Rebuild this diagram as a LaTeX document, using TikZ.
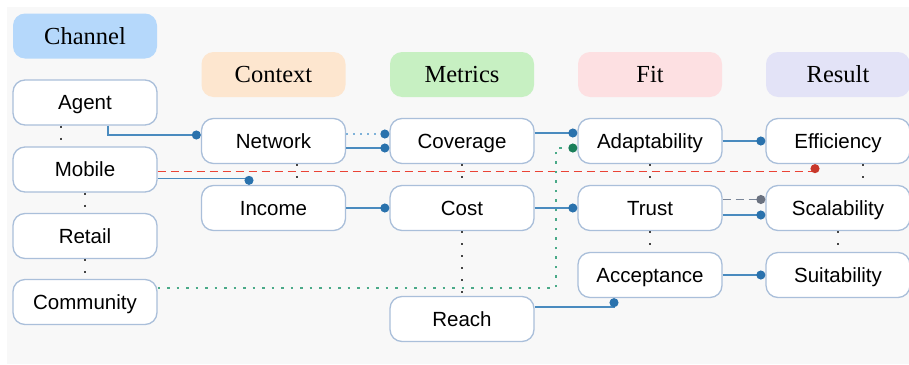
\documentclass[tikz,border=0pt]{standalone}
\usepackage{fontspec}
\setmainfont{Liberation Serif}
\setsansfont{Liberation Sans}
\usetikzlibrary{arrows.meta,calc}
\definecolor{cBg}{HTML}{F8F8F8}
\definecolor{cBox}{HTML}{AABFDA}
\definecolor{cHChannel}{HTML}{B5D8FB}
\definecolor{cHContext}{HTML}{FDE6CF}
\definecolor{cHMetrics}{HTML}{C7F0C2}
\definecolor{cHFit}{HTML}{FDE0E2}
\definecolor{cHResult}{HTML}{E3E3F7}
\definecolor{cLineBlue}{HTML}{4A8BBF}
\definecolor{cDotBlue}{HTML}{2A72AD}
\definecolor{cLightBlue}{HTML}{7FB2D9}
\definecolor{cLineRed}{HTML}{EA4335}
\definecolor{cDotRed}{HTML}{C8382B}
\definecolor{cLineGreen}{HTML}{4AAA88}
\definecolor{cDotGreen}{HTML}{1A7F5A}
\definecolor{cLineGray}{HTML}{7A8699}
\definecolor{cDotGray}{HTML}{6B7280}
\definecolor{cVDot}{HTML}{444444}
\tikzset{
  hdr/.style={rounded corners=12pt, minimum width=144pt, minimum height=45pt, inner sep=0pt, text height=16.2pt, text depth=0pt, font=\fontsize{24.5}{28}\selectfont\rmfamily},
  nbox/.style={rounded corners=12pt, draw=cBox, fill=white, line width=1.3pt, minimum width=144pt, minimum height=45pt, inner sep=0pt, text height=14.7pt, text depth=0pt, font=\fontsize{20.5}{24}\selectfont\sffamily},
  bline/.style={draw=cLineBlue, line width=1.3pt, -{Circle[length=9pt,color=cDotBlue]}},
  vdots/.style={draw=cVDot, line width=2pt, dash pattern=on 2pt off 10pt},
}
\begin{document}
\begin{tikzpicture}[x=1pt,y=-1pt]
\useasboundingbox (0,0) rectangle (909,364);
\fill[cBg] (7,7) rectangle (909,364);
% headers
\node[hdr, fill=cHChannel] (hCh) at (85,36) {Channel};
\node[hdr, fill=cHContext] (hCo) at (273.5,74.5) {Context};
\node[hdr, fill=cHMetrics] (hMe) at (462,74.5) {Metrics};
\node[hdr, fill=cHFit] (hFi) at (650,74.5) {Fit};
\node[hdr, fill=cHResult] (hRe) at (838,74.5) {Result};
% channel
\node[nbox] (Agent) at (85,102.5) {Agent};
\node[nbox] (Mobile) at (85,169.5) {Mobile};
\node[nbox] (Retail) at (85,236) {Retail};
\node[nbox] (Community) at (85,302) {Community};
% context
\node[nbox] (Network) at (273.5,141) {Network};
\node[nbox] (Income) at (273.5,208) {Income};
% metrics
\node[nbox] (Coverage) at (462,141) {Coverage};
\node[nbox] (Cost) at (462,208) {Cost};
\node[nbox] (Reach) at (462,319) {Reach};
% fit
\node[nbox] (Adaptability) at (650,141) {Adaptability};
\node[nbox] (Trust) at (650,208) {Trust};
\node[nbox] (Acceptance) at (650,275) {Acceptance};
% result
\node[nbox] (Efficiency) at (838,141) {Efficiency};
\node[nbox] (Scalability) at (838,208) {Scalability};
\node[nbox] (Suitability) at (838,275) {Suitability};
% vertical dotted
\draw[vdots] ($(Agent.south)+(-24,0)$) -- ($(Mobile.north)+(-24,0)$);
\draw[vdots] (Mobile.south) -- (Retail.north);
\draw[vdots] (Retail.south) -- (Community.north);
\draw[vdots] ($(Network.south)+(23,0)$) -- ($(Income.north)+(23,0)$);
\draw[vdots] (Coverage.south) -- (Cost.north);
\draw[vdots] (Cost.south) -- (Reach.north);
\draw[vdots] (Adaptability.south) -- (Trust.north);
\draw[vdots] (Trust.south) -- (Acceptance.north);
\draw[vdots] ($(Efficiency.south)+(25,0)$) -- ($(Scalability.north)+(25,0)$);
\draw[vdots] (Scalability.south) -- (Suitability.north);
% connectors
\draw[bline] ($(Agent.south)+(23,0)$) |- ($(Network.west)+(0,-6)$);
\draw[draw=cLightBlue, line width=1.3pt, dash pattern=on 2pt off 5pt, -{Circle[length=9pt,color=cDotBlue]}] ($(Network.east)+(0,-7)$) -- ($(Coverage.west)+(0,-7)$);
\draw[bline] ($(Network.east)+(0,7)$) -- ($(Coverage.west)+(0,7)$);
\draw[bline] ($(Mobile.east)+(0,9)$) -| ($(Income.north)+(-24.5,0)$);
\draw[draw=cLineRed, line width=1.5pt, dash pattern=on 8pt off 5pt, -{Circle[length=9pt,color=cDotRed]}] ($(Mobile.east)+(0,2)$) -| ($(Efficiency.south)+(-23,0)$);
\draw[bline] (Income.east) -- (Cost.west);
\draw[bline] ($(Coverage.east)+(0,-8)$) -- ($(Adaptability.west)+(0,-8)$);
\draw[bline] (Cost.east) -- (Trust.west);
\coordinate (gbend) at (556,0);
\draw[draw=cLineGreen, line width=1.4pt, dash pattern=on 2.5pt off 7pt, -{Circle[length=9pt,color=cDotGreen]}] ($(Community.east)+(0,-14)$) coordinate (ga) -- (ga -| gbend) |- ($(Adaptability.west)+(0,7)$);
\draw[bline] (Adaptability.east) -- (Efficiency.west);
\draw[draw=cLineGray, line width=1.3pt, dash pattern=on 8pt off 5pt, -{Circle[length=9pt,color=cDotGray]}] ($(Trust.east)+(0,-8.5)$) -- ($(Scalability.west)+(0,-8.5)$);
\draw[bline] ($(Trust.east)+(0,7)$) -- ($(Scalability.west)+(0,7)$);
\draw[bline] (Acceptance.east) -- (Suitability.west);
\draw[bline] ($(Reach.east)+(0,-12)$) -| ($(Acceptance.south)+(-36,0)$);
\end{tikzpicture}
\end{document}
